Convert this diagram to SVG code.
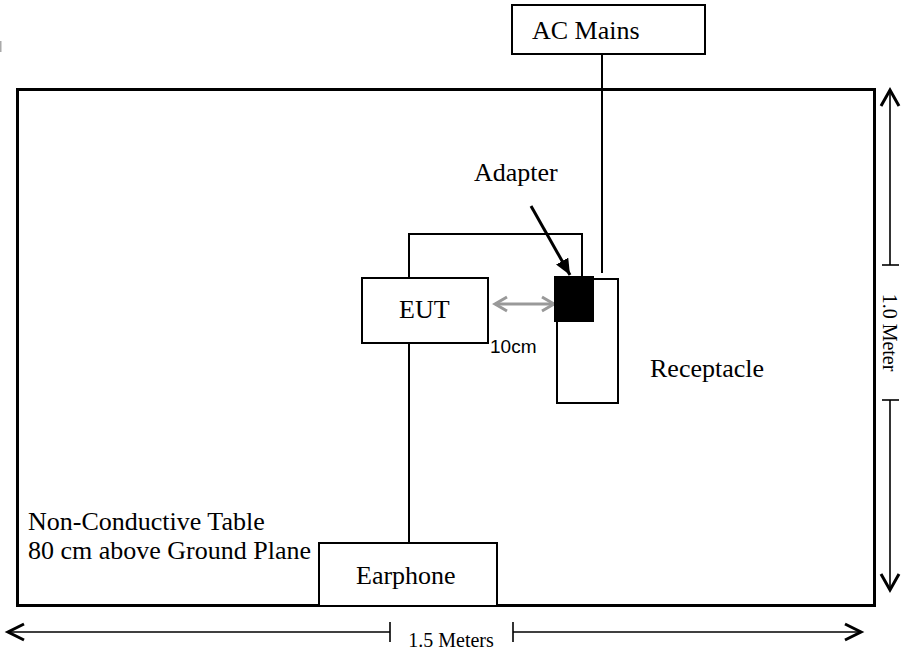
<svg xmlns="http://www.w3.org/2000/svg" width="901" height="654" viewBox="0 0 901 654">
<style>
.box{fill:#fff;stroke:#000;stroke-width:2}
.wire{fill:none;stroke:#000;stroke-width:2}
.dim{fill:none;stroke:#000;stroke-width:1.6}
.head{fill:none;stroke:#000;stroke-width:3;stroke-linejoin:miter}
.lbl{font-family:"Liberation Serif","Times New Roman",serif;font-size:26px;fill:#000}
.small{font-family:"Liberation Serif","Times New Roman",serif;font-size:20px;fill:#000}
.sans{font-family:"Liberation Sans",Arial,sans-serif;font-size:19px;fill:#000}
</style>
<defs>
<marker id="tri" viewBox="0 0 10 10" refX="10" refY="5" markerWidth="16" markerHeight="14" markerUnits="userSpaceOnUse" orient="auto" preserveAspectRatio="none">
<path d="M0,0 L10,5 L0,10 z" fill="#000"/>
</marker>
</defs>
<rect x="0" y="41" width="1.5" height="11" fill="#aaa"/>
<g id="table">
<rect x="17.5" y="89.5" width="857" height="516" fill="none" stroke="#000" stroke-width="3"/>
<text class="lbl" x="28" y="530">Non-Conductive Table</text>
<text class="lbl" x="28" y="559">80 cm above Ground Plane</text>
</g>
<g id="connectors">
<polyline class="wire" points="409,278 409,234 582,234 582,276"/>
<line class="wire" x1="602" y1="54" x2="602" y2="273"/>
<line class="wire" x1="409" y1="343" x2="409" y2="543"/>
<line x1="531" y1="206" x2="570" y2="275" stroke="#000" stroke-width="3" marker-end="url(#tri)"/>
<g stroke="#999" stroke-width="3" fill="none">
<line x1="495" y1="304" x2="554" y2="304"/>
<polyline points="507,297 495,304 507,311"/>
<polyline points="542,297 554,304 542,311"/>
</g>
</g>
<g id="ac-mains">
<rect class="box" x="512" y="5" width="193" height="49"/>
<text class="lbl" x="532" y="39">AC Mains</text>
</g>
<g id="receptacle">
<rect class="box" x="557" y="279" width="61" height="124"/>
<text class="lbl" x="650" y="377">Receptacle</text>
</g>
<g id="adapter">
<rect x="554" y="276" width="40" height="46" fill="#000"/>
<text class="lbl" x="474" y="181">Adapter</text>
</g>
<g id="eut">
<rect class="box" x="362" y="278" width="126" height="65"/>
<text class="lbl" x="399" y="318">EUT</text>
<text class="sans" x="490" y="353">10cm</text>
</g>
<g id="earphone">
<rect class="box" x="319" y="543" width="178" height="63"/>
<text class="lbl" x="356" y="584">Earphone</text>
</g>
<g id="dim-vertical">
<line class="dim" x1="890" y1="90" x2="890" y2="265"/>
<line class="dim" x1="882" y1="265" x2="899" y2="265"/>
<line class="dim" x1="890" y1="400" x2="890" y2="590"/>
<line class="dim" x1="882" y1="400" x2="899" y2="400"/>
<polyline class="head" points="881,106 890,90 899,106"/>
<polyline class="head" points="881,574 890,590 899,574"/>
<text class="small" x="0" y="0" transform="translate(883,332.5) rotate(90)" text-anchor="middle">1.0 Meter</text>
</g>
<g id="dim-horizontal">
<line class="dim" x1="7" y1="632" x2="390" y2="632"/>
<line class="dim" x1="390" y1="622" x2="390" y2="642"/>
<line class="dim" x1="513" y1="632" x2="862" y2="632"/>
<line class="dim" x1="513" y1="622" x2="513" y2="642"/>
<polyline class="head" points="24,624 8,632 24,640"/>
<polyline class="head" points="845,624 861,632 845,640"/>
<text class="small" x="451" y="647" text-anchor="middle">1.5 Meters</text>
</g>
</svg>
